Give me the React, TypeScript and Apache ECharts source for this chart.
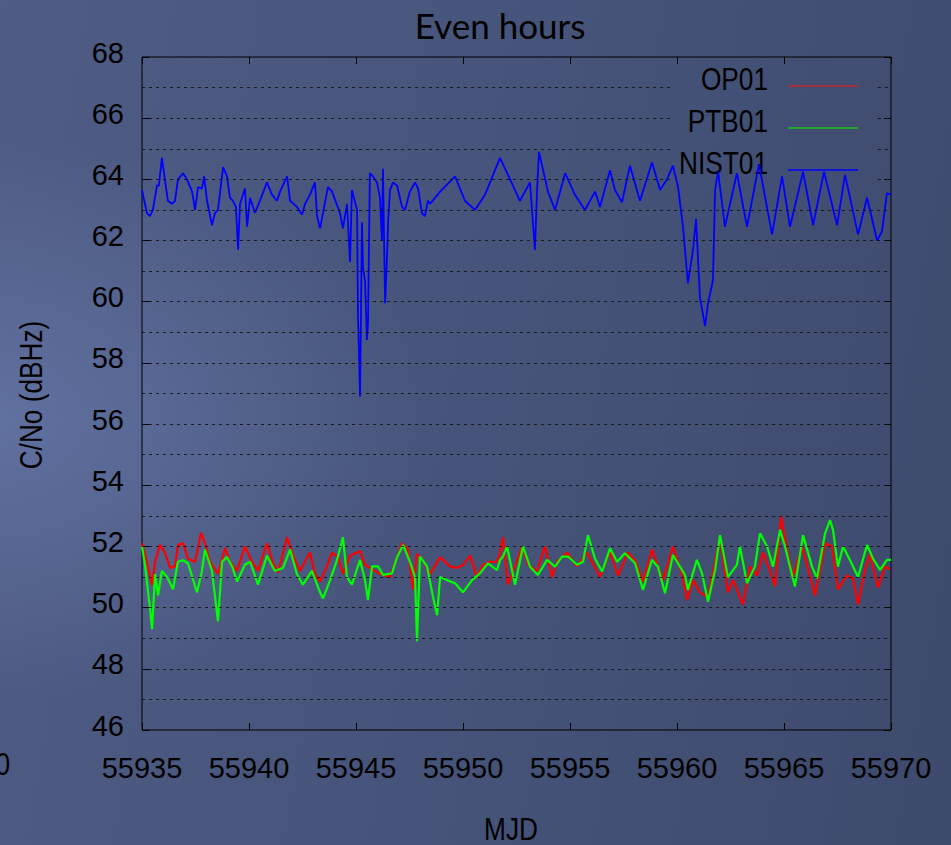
import { useEffect, useRef } from "react";
import * as echarts from "echarts";

// Axis extents
const MJD_START = 55935;
const MJD_END = 55970;
const MJD_STEP = 5;
const CNO_MIN = 46;
const CNO_MAX = 68;
const CNO_STEP = 2;

const SERIES_NAMES = ["OP01", "PTB01", "NIST01"];
const SERIES_COLORS = ["#ff0000", "#00ff00", "#0000ff"];
const KEY_COLORS = ["#c0282c", "#18c018", "#0000ff"];

// Samples: [days after MJD 55935, C/No in dBHz]
const OP01_CNO: number[][] = [
  [0.00, 52.1], [0.23, 51.5], [0.47, 50.75], [0.61, 51.5], [0.84, 52.05], [1.07, 51.8],
  [1.31, 51.3], [1.54, 51.35], [1.68, 52.05], [1.92, 52.1], [2.15, 51.6], [2.48, 51.5],
  [2.76, 52.45], [2.94, 52.1], [3.18, 51.5], [3.55, 51.1], [3.88, 51.95], [4.11, 51.5],
  [4.44, 51.2], [4.81, 52.0], [5.14, 51.5], [5.42, 51.2], [5.84, 52.1], [6.12, 51.45],
  [6.36, 51.15], [6.78, 52.3], [7.06, 51.7], [7.38, 51.2], [7.85, 51.8], [8.08, 51.1],
  [8.32, 50.85], [8.64, 51.35], [8.88, 51.8], [9.16, 51.65], [9.39, 51.1], [9.72, 51.7],
  [10.19, 51.85], [10.42, 51.4], [10.65, 51.3], [11.12, 51.1], [11.59, 51.0], [11.92, 51.65],
  [12.15, 52.1], [12.43, 51.9], [12.66, 50.6], [12.85, 51.75], [13.13, 51.55], [13.46, 51.1],
  [13.93, 51.65], [14.39, 51.35], [14.72, 51.3], [15.00, 51.4], [15.33, 51.7], [15.65, 51.0],
  [15.93, 51.4], [16.26, 51.5], [16.59, 51.5], [16.73, 51.8], [16.87, 52.3], [17.10, 50.75],
  [17.43, 51.35], [17.76, 52.0], [18.04, 51.4], [18.46, 51.2], [18.83, 52.0], [19.16, 51.0],
  [19.39, 51.5], [19.86, 51.8], [20.33, 51.35], [20.79, 51.8], [21.03, 51.5], [21.40, 51.0],
  [21.87, 51.85], [22.24, 51.05], [22.71, 51.8], [23.04, 51.55], [23.41, 50.85], [23.83, 51.9],
  [24.35, 50.9], [24.81, 52.0], [25.23, 51.1], [25.47, 50.25], [25.75, 50.9], [26.07, 50.5],
  [26.45, 50.35], [27.01, 52.3], [27.38, 50.5], [27.62, 50.9], [28.08, 50.1], [28.41, 51.35],
  [28.74, 51.05], [29.02, 51.8], [29.35, 51.2], [29.58, 50.7], [29.86, 53.0], [30.14, 51.9],
  [30.42, 51.0], [30.84, 52.0], [31.21, 51.05], [31.45, 50.4], [31.92, 52.1], [32.24, 52.0],
  [32.52, 50.6], [32.94, 51.05], [33.22, 50.95], [33.46, 50.1], [33.79, 51.25], [34.02, 51.75],
  [34.39, 50.65], [34.72, 51.35], [34.95, 51.25],
];

const PTB01_CNO: number[][] = [
  [0.00, 52.0], [0.14, 51.4], [0.37, 50.0], [0.47, 49.3], [0.61, 51.1], [0.75, 50.4],
  [0.93, 51.2], [1.17, 51.0], [1.45, 50.6], [1.68, 51.5], [1.92, 51.55], [2.15, 51.45],
  [2.57, 50.5], [2.80, 51.2], [2.94, 51.9], [3.27, 51.2], [3.55, 49.55], [3.74, 51.5],
  [3.97, 51.65], [4.21, 51.35], [4.44, 50.85], [4.81, 51.4], [5.05, 51.5], [5.42, 50.75],
  [5.84, 51.7], [6.21, 51.2], [6.59, 51.3], [6.92, 51.9], [7.24, 51.1], [7.52, 50.75],
  [7.94, 51.2], [8.32, 50.5], [8.46, 50.3], [8.79, 50.9], [9.11, 51.55], [9.39, 52.3],
  [9.58, 51.0], [9.81, 50.75], [10.19, 51.56], [10.42, 50.9], [10.56, 50.25], [10.75, 51.35],
  [11.03, 51.35], [11.26, 51.07], [11.68, 51.12], [11.92, 51.65], [12.20, 52.05], [12.52, 51.5],
  [12.76, 51.0], [12.85, 48.9], [12.99, 51.67], [13.32, 51.35], [13.60, 50.35], [13.79, 49.75],
  [13.93, 51.0], [14.25, 50.9], [14.63, 50.8], [15.00, 50.5], [15.42, 50.9], [15.79, 51.12],
  [16.17, 51.45], [16.59, 51.23], [16.73, 51.56], [16.87, 51.67], [17.06, 52.0], [17.43, 50.75],
  [17.80, 52.0], [18.13, 51.34], [18.50, 51.07], [18.93, 51.56], [19.30, 51.34], [19.63, 51.67],
  [19.91, 51.67], [20.33, 51.4], [20.61, 51.5], [20.84, 52.37], [21.17, 51.6], [21.50, 51.18],
  [21.87, 51.94], [22.20, 51.5], [22.57, 51.78], [23.04, 51.45], [23.41, 50.58], [23.83, 51.56],
  [24.11, 51.34], [24.44, 50.47], [24.81, 51.72], [25.37, 51.07], [25.51, 50.58], [25.93, 51.56],
  [26.17, 51.12], [26.45, 50.2], [26.78, 51.23], [27.01, 52.37], [27.38, 51.0], [27.80, 51.4],
  [27.94, 52.0], [28.27, 50.8], [28.64, 51.34], [28.88, 52.43], [29.21, 52.0], [29.49, 51.34],
  [29.81, 52.54], [30.05, 52.0], [30.28, 51.34], [30.51, 50.69], [30.89, 52.37], [31.31, 51.34],
  [31.54, 50.96], [31.92, 52.43], [32.15, 52.86], [32.29, 52.54], [32.52, 51.34], [32.76, 52.0],
  [33.08, 51.56], [33.46, 51.0], [33.88, 52.05], [34.16, 51.6], [34.49, 51.23], [34.81, 51.56],
  [35.00, 51.56],
];

const NIST01_CNO: number[][] = [
  [0.00, 63.65], [0.23, 62.9], [0.37, 62.8], [0.51, 63.0], [0.70, 63.8], [0.79, 63.8],
  [0.93, 64.7], [1.07, 64.0], [1.21, 63.3], [1.40, 63.2], [1.54, 63.3], [1.68, 64.0],
  [1.92, 64.2], [2.10, 64.0], [2.34, 63.6], [2.48, 63.0], [2.62, 63.75], [2.80, 63.7],
  [2.90, 64.1], [3.04, 63.3], [3.27, 62.5], [3.41, 62.9], [3.55, 63.0], [3.79, 64.4],
  [3.97, 64.1], [4.11, 63.4], [4.25, 63.3], [4.39, 63.1], [4.49, 61.7], [4.58, 63.2],
  [4.81, 63.7], [4.91, 62.45], [5.05, 63.4], [5.28, 62.9], [5.51, 63.3], [5.84, 63.9],
  [6.07, 63.5], [6.31, 63.3], [6.45, 63.6], [6.78, 64.1], [6.92, 63.3], [7.24, 63.1],
  [7.48, 62.85], [7.62, 63.2], [7.85, 63.5], [8.08, 63.9], [8.18, 62.8], [8.32, 62.4],
  [8.69, 63.75], [8.88, 63.6], [9.25, 62.9], [9.39, 62.4], [9.58, 63.2], [9.72, 61.3],
  [9.81, 63.65], [10.05, 63.0], [10.09, 59.66], [10.19, 56.9], [10.28, 62.6], [10.33, 61.1],
  [10.42, 60.7], [10.51, 58.75], [10.56, 59.3], [10.65, 64.2], [10.79, 64.1], [10.98, 63.9],
  [11.12, 63.4], [11.21, 62.0], [11.26, 64.35], [11.36, 59.95], [11.45, 61.5], [11.50, 62.6],
  [11.59, 63.65], [11.73, 63.9], [11.92, 63.8], [12.15, 63.1], [12.29, 63.0], [12.52, 63.6],
  [12.76, 63.9], [12.90, 63.7], [13.08, 62.9], [13.22, 62.8], [13.36, 63.3], [13.46, 63.2],
  [13.93, 63.6], [14.63, 64.1], [15.09, 63.3], [15.56, 63.0], [16.03, 63.5], [16.73, 64.7],
  [17.20, 64.0], [17.66, 63.3], [18.13, 63.9], [18.36, 61.7], [18.46, 63.6], [18.55, 64.9],
  [18.97, 63.6], [19.30, 63.0], [19.77, 64.2], [20.23, 63.5], [20.70, 63.0], [21.17, 63.6],
  [21.40, 63.1], [21.87, 64.3], [22.10, 63.65], [22.43, 63.25], [22.80, 64.45], [23.27, 63.3],
  [23.83, 64.55], [24.21, 63.65], [24.53, 64.0], [24.81, 64.45], [25.05, 63.75], [25.28, 62.45],
  [25.51, 60.6], [25.75, 61.7], [25.89, 62.7], [26.07, 60.15], [26.31, 59.2], [26.45, 59.95],
  [26.68, 60.7], [26.78, 63.65], [26.92, 64.25], [27.24, 62.45], [27.80, 64.2], [28.27, 62.45],
  [28.83, 64.5], [29.44, 62.2], [29.91, 64.1], [30.28, 62.45], [30.89, 64.25], [31.36, 62.5],
  [31.87, 64.25], [32.48, 62.5], [32.85, 64.15], [33.46, 62.2], [33.88, 63.4], [34.35, 62.0],
  [34.58, 62.3], [34.81, 63.55], [35.00, 63.5],
];

// Dotted reference levels (every 1 dBHz); the top ones break under the key
const GRID_LEVELS = [47, 48, 49, 50, 51, 52, 53, 54, 55, 56, 57, 58, 59, 60, 61, 62, 63, 64, 65, 66, 67];
const KEY_LEVELS = [64, 65, 66, 67];
const KEY_GAP_DAYS = [24.81, 34.39];

const SANS = "'Liberation Sans', Arial, sans-serif";
// Free-standing labels use a horizontally condensed sans
const NARROW_SCALE = 0.82;

export default function App() {
  const ref = useRef<HTMLDivElement>(null);

  useEffect(() => {
    const chart = echarts.init(ref.current!, null, { renderer: "svg" });
    const toMjd = (rows: number[][]) => rows.map(([d, v]) => [MJD_START + d, v]);

    const gridSegments: any[] = [];
    GRID_LEVELS.forEach((v) => {
      if (KEY_LEVELS.includes(v)) {
        gridSegments.push([{ coord: [MJD_START, v] }, { coord: [MJD_START + KEY_GAP_DAYS[0], v] }]);
        gridSegments.push([{ coord: [MJD_START + KEY_GAP_DAYS[1], v] }, { coord: [MJD_END, v] }]);
      } else {
        gridSegments.push([{ coord: [MJD_START, v] }, { coord: [MJD_END, v] }]);
      }
    });

    const tick = { show: true, inside: true, length: 7, lineStyle: { color: "#000", width: 1 } };
    const labelText = { fontFamily: SANS, fontSize: 29, color: "#000" };
    const dataSets = [OP01_CNO, PTB01_CNO, NIST01_CNO];

    const narrowText = (text: string, x: number, y: number, align: string, extra: any = {}) => ({
      type: "text",
      x,
      y,
      scaleX: NARROW_SCALE,
      z: 1,
      ...extra,
      style: { text, font: `32px ${SANS}`, fill: "#000", align, verticalAlign: "middle" },
    });

    const keyRows = [86, 128, 170];
    const keyGraphics: any[] = [];
    SERIES_NAMES.forEach((name, i) => {
      keyGraphics.push(narrowText(name, 768, keyRows[i] - 7, "right"));
      keyGraphics.push({
        type: "line",
        z: 1,
        shape: { x1: 788, y1: keyRows[i], x2: 858, y2: keyRows[i] },
        style: { stroke: KEY_COLORS[i], lineWidth: 1.5 },
      });
    });

    chart.setOption({
      animation: false,
      backgroundColor: "transparent",
      grid: {
        left: 142,
        top: 57,
        width: 749,
        height: 673,
        show: true,
        borderColor: "#000",
        borderWidth: 1,
        backgroundColor: "transparent",
      },
      xAxis: [
        {
          type: "value",
          min: MJD_START,
          max: MJD_END,
          interval: MJD_STEP,
          position: "bottom",
          axisLine: { show: false },
          axisTick: tick,
          axisLabel: { ...labelText, margin: 23, formatter: (v: number) => String(v) },
          splitLine: { show: false },
        },
        {
          type: "value",
          min: MJD_START,
          max: MJD_END,
          interval: MJD_STEP,
          position: "top",
          axisLine: { show: false },
          axisTick: tick,
          axisLabel: { show: false },
          splitLine: { show: false },
        },
      ],
      yAxis: [
        {
          type: "value",
          min: CNO_MIN,
          max: CNO_MAX,
          interval: CNO_STEP,
          position: "left",
          axisLine: { show: false },
          axisTick: tick,
          axisLabel: {
            ...labelText,
            margin: 18,
            formatter: (v: number) => `{v|${v}}`,
            rich: { v: { ...labelText, padding: [0, 0, 9, 0] } },
          },
          splitLine: { show: false },
        },
        {
          type: "value",
          min: CNO_MIN,
          max: CNO_MAX,
          interval: CNO_STEP,
          position: "right",
          axisLine: { show: false },
          axisTick: tick,
          axisLabel: { show: false },
          splitLine: { show: false },
        },
      ],
      series: [
        {
          type: "line",
          name: "levels",
          data: [],
          z: 1,
          silent: true,
          markLine: {
            silent: true,
            symbol: ["none", "none"],
            label: { show: false },
            emphasis: { disabled: true },
            lineStyle: { color: "#111", type: [3, 4], width: 1, opacity: 0.85 },
            data: gridSegments,
          },
        },
        ...SERIES_NAMES.map((name, i) => ({
          type: "line",
          name,
          data: toMjd(dataSets[i]),
          z: 2 + i,
          showSymbol: false,
          symbol: "none",
          silent: true,
          lineStyle: { color: SERIES_COLORS[i], width: i === 2 ? 1.8 : 2.2 },
          itemStyle: { color: SERIES_COLORS[i] },
        })),
      ],
      graphic: [
        {
          type: "text",
          x: 500,
          y: 25,
          style: {
            text: "Even hours",
            font: "35px Lato, 'Open Sans', sans-serif",
            fill: "#000",
            align: "center",
            verticalAlign: "middle",
          },
        },
        narrowText("C/No (dBHz)", 31, 395, "center", { rotation: Math.PI / 2 }),
        narrowText("MJD", 511, 829, "center"),
        narrowText("0", 10, 764, "right"),
        ...keyGraphics,
      ],
    });

    return () => chart.dispose();
  }, []);

  return (
    <div
      ref={ref}
      style={{
        position: "fixed",
        left: 0,
        top: 0,
        width: 951,
        height: 845,
        background:
          "radial-gradient(ellipse 430px 280px at 0px 420px, rgba(112,130,182,0.55), rgba(112,130,182,0) 100%), linear-gradient(100deg, #4f5c85 0%, #47557c 45%, #3e4a6c 100%)",
      }}
    />
  );
}
